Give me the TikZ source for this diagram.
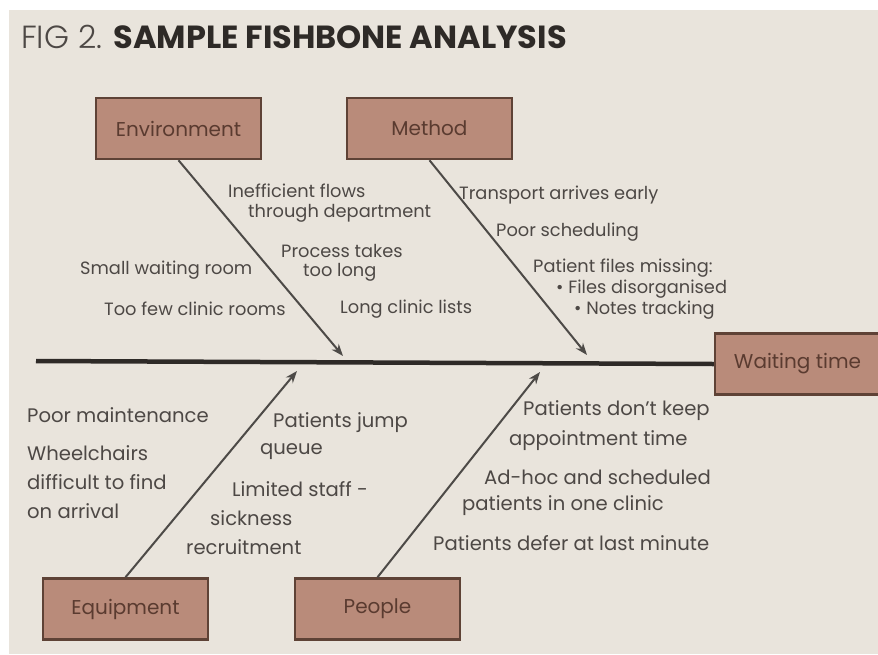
\documentclass[tikz,border=0pt]{standalone}
\usepackage{fontspec}
\setmainfont{Poppins}
\newfontfamily\lightfont{Poppins Light}
\usetikzlibrary{arrows.meta}

\definecolor{paper}{HTML}{E9E4DC}
\definecolor{boxfill}{HTML}{B98B7A}
\definecolor{boxline}{HTML}{5E4236}
\definecolor{boxtext}{HTML}{5A3B30}
\definecolor{txt}{HTML}{4D4845}
\definecolor{ink}{HTML}{2E2A27}

\tikzset{
  bonebox/.style={draw=boxline, line width=2.5pt, fill=boxfill, minimum width=165pt,
    minimum height=61pt, text=boxtext, font=\fontsize{20}{22}\selectfont},
  cause/.style={anchor=west, inner sep=0pt, text=txt, font=\fontsize{17.8}{20}\selectfont},
  lowcause/.style={cause, font=\fontsize{19.6}{22}\selectfont},
  bone/.style={line width=2pt, draw=ink!85, -{Stealth[length=12pt,width=9pt]}},
  spine/.style={line width=4.5pt, draw=ink},
}

\begin{document}
\begin{tikzpicture}[x=1pt, y=-1pt]
        \useasboundingbox (0,0) rectangle (878,654);
        \fill[white] (0,0) rectangle (878,654);
        \fill[paper] (9,10) rectangle (878,654);

        \node[anchor=west, inner sep=0pt, text=ink, font=\fontsize{32}{36}\selectfont] (title) at (21,37)
                {{\lightfont\color{txt}FIG 2.} \textbf{SAMPLE FISHBONE ANALYSIS}};

        % head and spine
        \begin{scope}
                \clip (0,0) rectangle (878,654);
                \node[bonebox] (wait) at (797.5,364) {Waiting time};
        \end{scope}
        \coordinate (tail) at (36,361);
        \draw[spine] (tail) -- (wait.west);

        % category boxes
        \node[bonebox] (env) at (178.5,128.5) {Environment};
        \node[bonebox] (meth) at (429.5,128.5) {Method};
        \node[bonebox] (equip) at (125.5,609) {Equipment};
        \node[bonebox] (people) at (377.5,609) {People};

        % bones
        \coordinate (envtip) at (343,356);
        \coordinate (methtip) at (587,355);
        \coordinate (equiptip) at (297,371);
        \coordinate (peopletip) at (540,372);
        \draw[bone] (env.south) -- (envtip);
        \draw[bone] (meth.south) -- (methtip);
        \draw[bone] (equip.north) -- (equiptip);
        \draw[bone] (people.north) -- (peopletip);

        % causes above the spine
        \foreach \n/\x/\y/\t in {
                a/228/191/Inefficient flows, b/248/213/through department,
                c/281/251/Process takes, d/303/272/too long,
                e/80/270/Small waiting room, f/104/309/Too few clinic rooms,
                g/340/309/Long clinic lists,
                h/459/195/Transport arrives early, i/496/232/Poor scheduling,
                j/533/268/Patient files missing:, k/556/289/• Files disorganised,
                l/574/310/• Notes tracking}
        {
                \node[cause] (c\n) at (\x,\y) {\t};
        }
        % causes below the spine
        \foreach \n/\x/\y/\t in {
                m/27/415/Poor maintenance, n/27/453/Wheelchairs,
                o/27/482/difficult to find, p/27/511/on arrival,
                q/273/423/Patients jump, r/260/452/queue,
                s/232/489/Limited staff -, t/210/518/sickness,
                u/186/547/recruitment,
                v/523/411/Patients don't keep, w/509/441/appointment time,
                x/484/477/Ad-hoc and scheduled, y/462/506/patients in one clinic,
                z/433/543/Patients defer at last minute}
        {
                \node[lowcause] (c\n) at (\x,\y) {\t};
        }
\end{tikzpicture}
\end{document}
